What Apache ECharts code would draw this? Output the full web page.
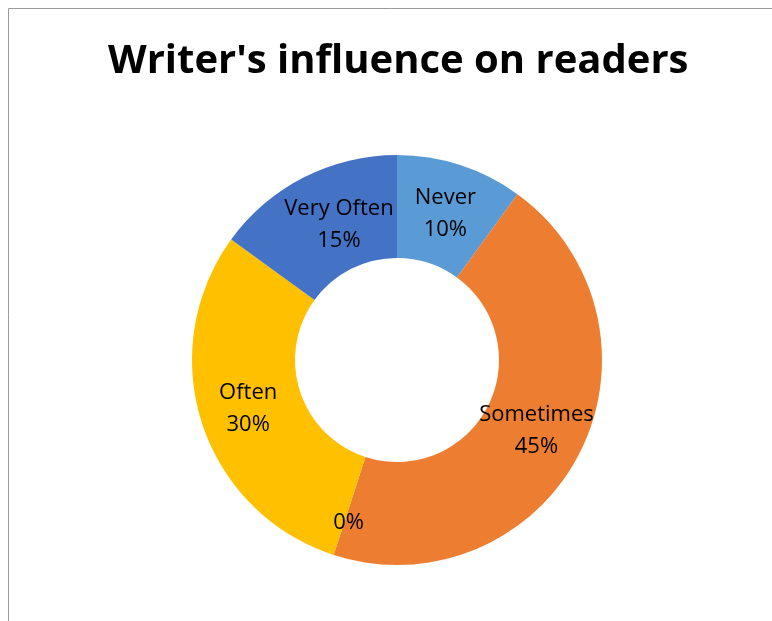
<!DOCTYPE html>
<html>
<head>
<meta charset="utf-8">
<script src="https://cdn.jsdelivr.net/npm/echarts@6/dist/echarts.min.js"></script>
<style>
  html, body { margin: 0; padding: 0; background: #ffffff; }
  #chart { width: 772px; height: 621px; }
</style>
</head>
<body>
<div id="chart"></div>
<script>
// Survey answers, clockwise from 12 o'clock
const categories = ['Never', 'Sometimes', '', 'Often', 'Very Often'];
const shares = [10, 45, 0, 30, 15];
const colors = ['#5B9BD5', '#ED7D31', '#A5A5A5', '#FFC000', '#4472C4'];
// nudges that keep each label inside its ring segment
const labelOffsets = [[0, 3], [0, 0], [0, 14], [0, 0], [13, 4]];

const chart = echarts.init(document.getElementById('chart'), null, { renderer: 'canvas' });

const FONT = '"Open Sans", Lato, sans-serif';

chart.setOption({
  animation: false,
  backgroundColor: '#ffffff',
  title: {
    text: "Writer's influence on readers",
    left: 103,
    top: 37,
    textStyle: { fontFamily: FONT, fontWeight: 'bold', fontSize: 40, color: '#000000' }
  },
  graphic: [
    { type: 'line', shape: { x1: 8.5, y1: 8.5, x2: 772, y2: 8.5 }, style: { stroke: '#9a9a9a', lineWidth: 1 } },
    { type: 'line', shape: { x1: 8.5, y1: 8.5, x2: 8.5, y2: 621 }, style: { stroke: '#9a9a9a', lineWidth: 1 } }
  ],
  series: [{
    type: 'pie',
    center: [397, 360],
    radius: [102, 205],
    startAngle: 90,
    clockwise: true,
    avoidLabelOverlap: false,
    stillShowZeroSum: true,
    minShowLabelAngle: 0,
    itemStyle: { borderWidth: 0 },
    label: {
      show: true,
      position: 'inside',
      fontFamily: FONT,
      fontSize: 22,
      lineHeight: 32,
      color: '#000000',
      formatter: p => (p.name ? p.name + '\n' : '') + p.value + '%'
    },
    labelLine: { show: false },
    emphasis: { disabled: true },
    data: categories.map((name, i) => ({
      name: name,
      value: shares[i],
      itemStyle: { color: colors[i] },
      label: { offset: labelOffsets[i] }
    }))
  }]
});
</script>
</body>
</html>
